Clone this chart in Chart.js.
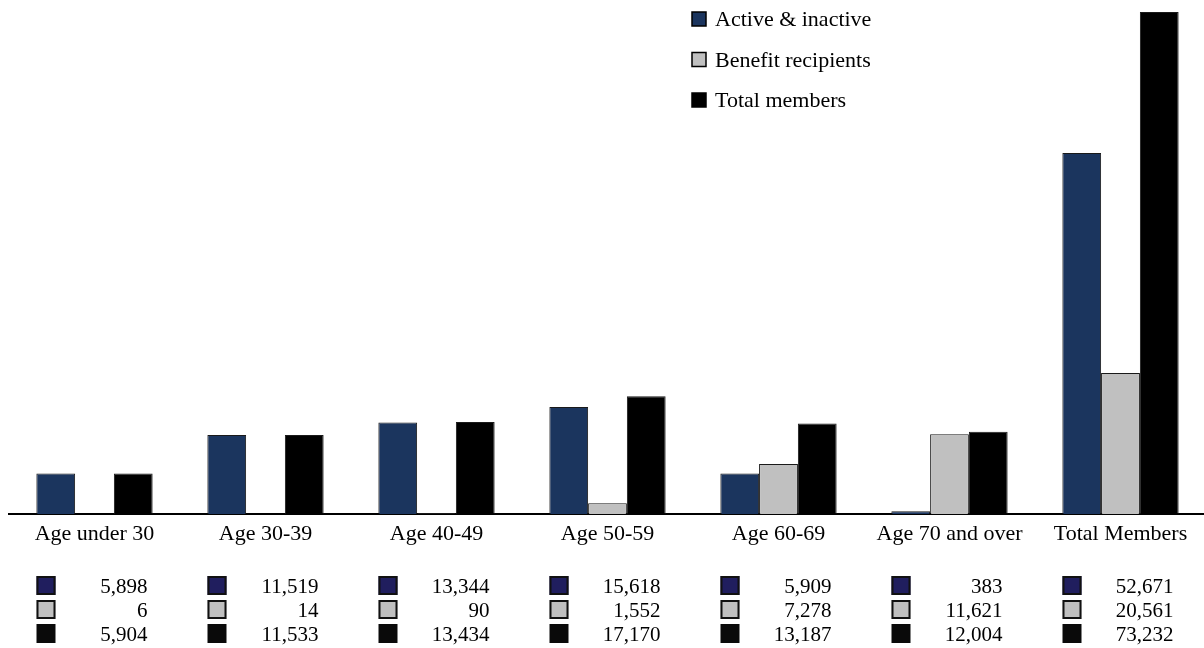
<!DOCTYPE html>
<html>
<head>
<meta charset="utf-8">
<script src="https://cdn.jsdelivr.net/npm/chart.js@4"></script>
<style>
  html, body { margin: 0; padding: 0; background: #fff; overflow: hidden; }
  #wrap { width: 1206px; height: 648px; position: relative; }
</style>
</head>
<body>
<div id="wrap"><canvas id="membersChart" width="1206" height="648"></canvas></div>
<script>
// chart data
const categories = ['Age under 30', 'Age 30-39', 'Age 40-49', 'Age 50-59', 'Age 60-69', 'Age 70 and over', 'Total Members'];
const seriesNames = ['Active & inactive', 'Benefit recipients', 'Total members'];
const activeInactive = [5898, 11519, 13344, 15618, 5909, 383, 52671];
const benefitRecipients = [6, 14, 90, 1552, 7278, 11621, 20561];
const totalMembers = [5904, 11533, 13434, 17170, 13187, 12004, 73232];
const yMax = 73232;

const barColors = ['#1b355e', '#c0c0c0', '#000000'];
const tableColors = ['#201e5e', '#c0c0c0', '#0a0a0a'];
const serif = '"Liberation Serif", "Times New Roman", serif';

// legend (top right) + data table under the axis
const extrasPlugin = {
    id: 'extras',
    afterDraw(chart) {
        const ctx = chart.ctx;
        const xScale = chart.scales.x;
        const rows = [activeInactive, benefitRecipients, totalMembers];
        ctx.save();

        // legend
        ctx.font = '22px ' + serif;
        ctx.textAlign = 'left';
        ctx.textBaseline = 'alphabetic';
        seriesNames.forEach(function(name, i) {
            const top = 12 + i * 40.5;
            ctx.fillStyle = barColors[i];
            ctx.fillRect(692, top, 14, 14);
            ctx.strokeStyle = '#000';
            ctx.lineWidth = 1.5;
            ctx.strokeRect(692, top, 14, 14);
            ctx.fillStyle = '#000';
            ctx.fillText(name, 715, top + 14);
        });

        // table
        ctx.font = '21px ' + serif;
        ctx.textAlign = 'right';
        categories.forEach(function(cat, j) {
            const cx = xScale.getPixelForValue(j);
            rows.forEach(function(vals, r) {
                const top = 576 + r * 24;
                ctx.fillStyle = tableColors[r];
                ctx.fillRect(cx - 58, top, 19, 19);
                if (r < 2) {
                    ctx.strokeStyle = '#111';
                    ctx.lineWidth = 2;
                    ctx.strokeRect(cx - 57, top + 1, 17, 17);
                }
                ctx.fillStyle = '#000';
                ctx.fillText(vals[j].toLocaleString('en-US'), cx + 53, top + 17);
            });
        });
        ctx.restore();
    }
};

document.addEventListener('DOMContentLoaded', function() {
    const ctx = document.getElementById('membersChart').getContext('2d');
    new Chart(ctx, {
        type: 'bar',
        data: {
            labels: categories,
            datasets: [
                { label: seriesNames[0], data: activeInactive, backgroundColor: barColors[0] },
                { label: seriesNames[1], data: benefitRecipients, backgroundColor: barColors[1] },
                { label: seriesNames[2], data: totalMembers, backgroundColor: barColors[2] }
            ].map(function(d) {
                return Object.assign(d, {
                    borderColor: '#1a1a1a',
                    borderWidth: 1,
                    categoryPercentage: 0.68,
                    barPercentage: 1.0
                });
            })
        },
        options: {
            responsive: false,
            animation: false,
            devicePixelRatio: 1,
            layout: { padding: { top: 12, left: 9, right: 0, bottom: 0 } },
            plugins: {
                legend: { display: false },
                tooltip: { enabled: false }
            },
            scales: {
                x: {
                    grid: { display: false, drawTicks: false },
                    border: { display: true, color: '#000', width: 2 },
                    ticks: {
                        color: '#000',
                        padding: 7,
                        maxRotation: 0,
                        autoSkip: false,
                        font: { family: serif, size: 22 }
                    },
                    afterFit: function(scale) { scale.height = 648 - 514; }
                },
                y: {
                    display: false,
                    min: 0,
                    max: yMax
                }
            }
        },
        plugins: [extrasPlugin]
    });
});
</script>
</body>
</html>
